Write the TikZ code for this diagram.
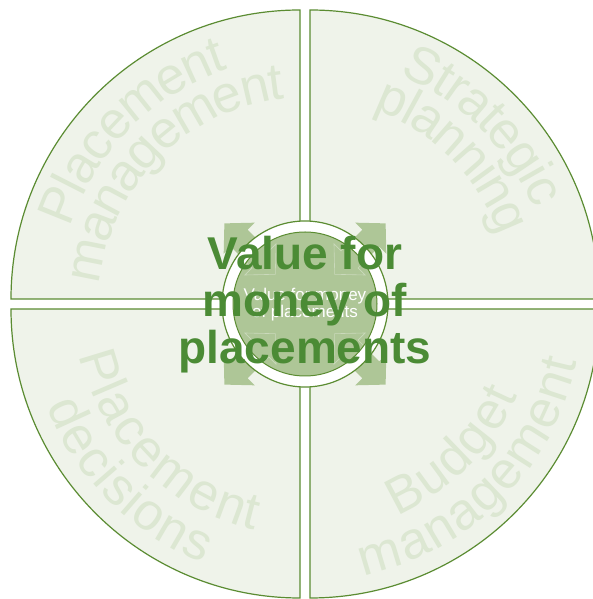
\documentclass[tikz,border=0pt]{standalone}
\usepackage{fontspec}
\setmainfont{Liberation Sans}
\usetikzlibrary{decorations.text}
\definecolor{qfill}{HTML}{EFF3EA}
\definecolor{qline}{HTML}{5B8C32}
\definecolor{qtext}{HTML}{DCE7D2}
\definecolor{agreen}{HTML}{AEC697}
\definecolor{tgreen}{HTML}{4B8B35}
\newcommand\qfont{\fontsize{52}{52}\selectfont\color{qtext}}
\tikzset{
  quad/.style={fill=qfill, draw=qline, line width=1.2pt},
  qlabel/.style={decorate, decoration={text along path, text align=center, raise=-15pt, text={|\qfont|#1}}},
  ringstyle/.style={fill=white, draw=qline, line width=1.2pt},
  diskstyle/.style={fill=agreen, draw=qline, line width=1pt},
  arrowfill/.style={fill=agreen},
  arrowline/.style={draw=white, draw opacity=0.35, line width=0.6pt},
  bigtext/.style={font=\fontsize{46}{47}\selectfont\bfseries, text=tgreen, align=center, inner sep=0pt},
  smalltext/.style={font=\fontsize{17}{15.5}\selectfont, text=white, align=center, inner sep=0pt}
}
\begin{document}
\begin{tikzpicture}[x=1pt,y=1pt]
\useasboundingbox (0,0) rectangle (593,599);
\begin{scope}
\clip (0,0) rectangle (593,599);
% quadrants
\path[quad] (300,300) -- (11,300) arc[start angle=180, end angle=90, radius=289] -- cycle;
\path[quad] (310,300) -- (310,589) arc[start angle=90, end angle=0, radius=289] -- cycle;
\path[quad] (300,290) -- (300,1) arc[start angle=270, end angle=180, radius=289] -- cycle;
\path[quad] (310,290) -- (599,290) arc[start angle=0, end angle=-90, radius=289] -- cycle;
% quadrant labels
\path[qlabel=Placement] ([shift={(305,295)}]180:262) arc[start angle=180, end angle=90, radius=262];
\path[qlabel=management] ([shift={(305,295)}]180:221) arc[start angle=180, end angle=90, radius=221];
\path[qlabel=Strategic] ([shift={(305,295)}]90:263) arc[start angle=90, end angle=0, radius=263];
\path[qlabel=planning] ([shift={(305,295)}]90:221) arc[start angle=90, end angle=0, radius=221];
\path[qlabel=Placement] ([shift={(305,295)}]180:216) arc[start angle=180, end angle=270, radius=216];
\path[qlabel=decisions] ([shift={(305,295)}]180:263) arc[start angle=180, end angle=270, radius=263];
\path[qlabel=Budget] ([shift={(305,295)}]270:216) arc[start angle=270, end angle=360, radius=216];
\path[qlabel=management] ([shift={(305,295)}]270:263) arc[start angle=270, end angle=360, radius=263];
% arrows
\foreach \a in {45,135,225,315}{
  \begin{scope}[shift={(305,295)}, rotate=\a]
    \path[arrowfill] (42,0) -- (63,22) -- (63,12) -- (93,12) -- (93,22) -- (114,0) -- (93,-22) -- (93,-12) -- (63,-12) -- (63,-22) -- cycle;
  \end{scope}}
% ring and disk
\path[ringstyle] (305,295) circle[radius=83];
\path[diskstyle] (305,295) circle[radius=72];
\begin{scope}
  \clip (305,295) circle[radius=71];
  \foreach \a in {45,135,225,315}{
    \begin{scope}[shift={(305,295)}, rotate=\a]
      \path[arrowline] (42,0) -- (63,22) -- (63,12) -- (93,12) -- (93,22) -- (114,0) -- (93,-22) -- (93,-12) -- (63,-12) -- (63,-22) -- cycle;
    \end{scope}}
\end{scope}
\node[smalltext] (inner) at (305,294.6) {Value for money\\of placements};
\node[bigtext] (main) at (305,294) {Value for\\money of\\placements};
\end{scope}
\end{tikzpicture}
\end{document}
